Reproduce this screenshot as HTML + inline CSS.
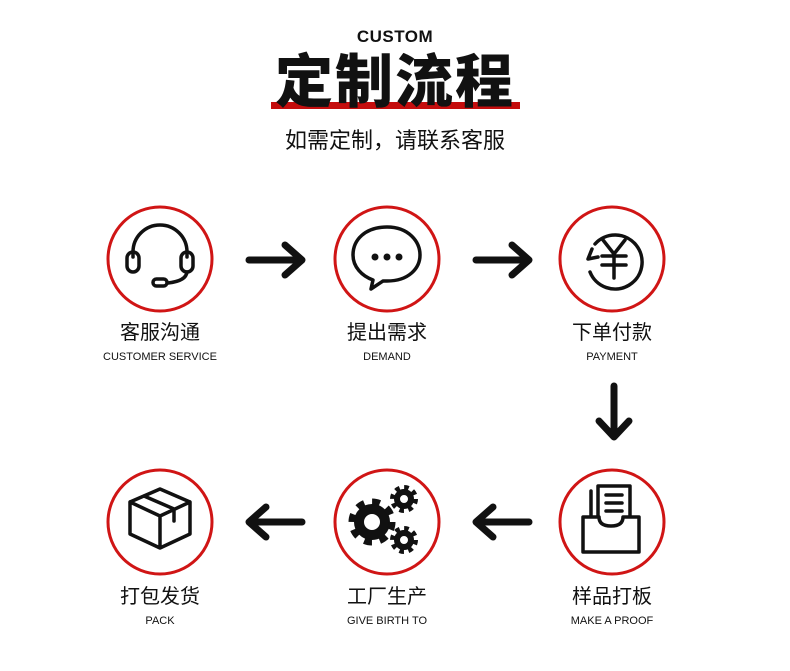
<!DOCTYPE html>
<html><head><meta charset="utf-8"><style>
html,body{margin:0;padding:0;background:#fff;}
body{width:790px;height:671px;overflow:hidden;position:relative;font-family:"Liberation Sans","Noto Sans CJK SC",sans-serif;}
.t{position:absolute;left:0;width:100%;text-align:center;color:#111;white-space:nowrap}
</style></head><body>
<svg width="790" height="671" style="position:absolute;left:0;top:0">
<rect x="271" y="102" width="249" height="7" fill="#c40d0d"/>
<g fill="none" stroke="#d01515" stroke-width="3">
<circle cx="160" cy="259" r="52"/><circle cx="387" cy="259" r="52"/><circle cx="612" cy="259" r="52"/>
<circle cx="160" cy="522" r="52"/><circle cx="387" cy="522" r="52"/><circle cx="612" cy="522" r="52"/>
</g>
<g fill="none" stroke="#111" stroke-width="7" stroke-linecap="round" stroke-linejoin="round">
<path d="M249 260H301M285 245L302 260L285 275"/>
<path d="M476 260H528M512 245L529 260L512 275"/>
<path d="M614 386V436M599 421L614 437L629 421"/>
<path d="M302 522H250M266 507L249 522L266 537"/>
<path d="M529 522H477M493 507L476 522L493 537"/>
</g>
<g fill="none" stroke="#111" stroke-width="3.5" stroke-linecap="round" stroke-linejoin="round">
<path d="M133 257V252a27 27 0 0 1 54 0V257"/>
<rect x="127" y="252" width="12" height="20" rx="6"/>
<rect x="181" y="252" width="12" height="20" rx="6"/>
<path d="M187 272 Q186 281 168 283"/>
<rect x="153" y="279" width="14" height="7" rx="3.5"/>
<path d="M387 227c-22 0-34 13-34 28c0 12 9 21 20 25l-2 9l12-8c1 0 3 0 4 0c22 0 33-13 33-26s-11-28-33-28z"/>
<path d="M595 244a27 27 0 1 1 -5 28"/>
<path d="M592 249l-4 10l10 -2"/>
<path d="M603 240l11 14l11-14M614 254V278M602 256h24M602 265h24"/>
<path d="M160 489l30 13v32l-30 14l-30-14v-32zM130 502l30 14l30-14M160 516v32M144 496l30 13v12"/>
<path d="M598 486h32v42h-32zM591 491v34M606 495h16M606 503h16M606 511h16"/>
<path d="M583 517v35h56v-35h-16q0 9-12 9q-12 0-12-9z" fill="#fff"/>
</g>
<g fill="#111">
<circle cx="375" cy="257" r="3.5"/><circle cx="387" cy="257" r="3.5"/><circle cx="399" cy="257" r="3.5"/>
</g>
<g fill="none" stroke="#111">
<circle cx="372" cy="522" r="13" stroke-width="10"/>
<circle cx="372" cy="522" r="20" stroke-width="7" stroke-dasharray="7.8 7.9"/>
<circle cx="404" cy="499" r="7" stroke-width="6"/>
<circle cx="404" cy="499" r="11.5" stroke-width="5" stroke-dasharray="4.5 4.5"/>
<circle cx="404" cy="540" r="7" stroke-width="6"/>
<circle cx="404" cy="540" r="11.5" stroke-width="5" stroke-dasharray="4.5 4.5"/>
</g>
</svg>
<div class="t" style="top:27px;font-size:17px;font-weight:bold;letter-spacing:0.5px">CUSTOM</div>
<div class="t" style="top:45px;font-size:58px;font-weight:900;line-height:64px;letter-spacing:2px;font-family:'Noto Sans CJK SC',sans-serif">定制流程</div>
<div class="t" style="top:126px;font-size:22px;line-height:30px">如需定制，请联系客服</div>

<div class="t" style="top:316px;left:60px;width:200px;font-size:20px">客服沟通</div>
<div class="t" style="top:351px;left:60px;width:200px;font-size:11px">CUSTOMER SERVICE</div>
<div class="t" style="top:316px;left:287px;width:200px;font-size:20px">提出需求</div>
<div class="t" style="top:351px;left:287px;width:200px;font-size:11px">DEMAND</div>
<div class="t" style="top:316px;left:512px;width:200px;font-size:20px">下单付款</div>
<div class="t" style="top:351px;left:512px;width:200px;font-size:11px">PAYMENT</div>

<div class="t" style="top:580px;left:60px;width:200px;font-size:20px">打包发货</div>
<div class="t" style="top:615px;left:60px;width:200px;font-size:11px">PACK</div>
<div class="t" style="top:580px;left:287px;width:200px;font-size:20px">工厂生产</div>
<div class="t" style="top:615px;left:287px;width:200px;font-size:11px">GIVE BIRTH TO</div>
<div class="t" style="top:580px;left:512px;width:200px;font-size:20px">样品打板</div>
<div class="t" style="top:615px;left:512px;width:200px;font-size:11px">MAKE A PROOF</div>
</body></html>
